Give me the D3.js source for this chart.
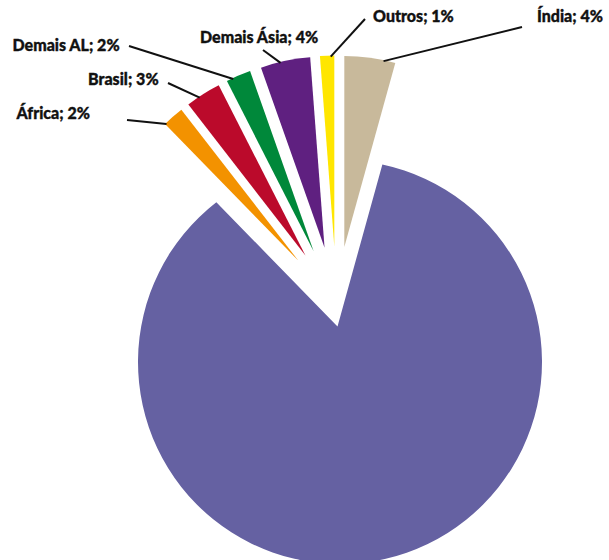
<!DOCTYPE html>
<html>
<head>
<meta charset="utf-8">
<script src="https://cdn.jsdelivr.net/npm/d3@7"></script>
<style>
  body { margin: 0; background: #fff; }
  text { font-family: Lato, "Open Sans", sans-serif; font-weight: 900; font-size: 16px; fill: #111; stroke: #111; stroke-width: 0.35px; }
</style>
</head>
<body>
<svg id="chart" width="609" height="560"></svg>
<script>
// data, clockwise from 12 o'clock
var names  = ["Índia", "principal", "África", "Brasil", "Demais AL", "Demais Ásia", "Outros"];
var values = [4.3, 83.4, 1.8, 3.0, 2.1, 4.2, 1.2];
var colors = ["#c8b99b", "#6561a2", "#f39200", "#bb0a2b", "#00883a", "#5f2080", "#ffe600"];

// layout
var width = 609, height = 560;
var cx = 336.5, cy = 304.5;   // pie centre
var rSmall = 191;             // radius of the small exploded slices
var explode = 58;             // how far the small slices are pulled out
var rBig = 202;
var bigArcShift = [3.5, 57.5];   // where the big slice's arc is centred, relative to centre
var bigApexShift = [1, 22];      // where its point sits

// hand placed labels: text pos, end of leader line, where leader meets arc (0..1)
var labelPos = {
  "Índia":       { x: 537,  y: 22,  lx: 522, ly: 27,  t: 0.77 },
  "Outros":      { x: 373,  y: 22,  lx: 365, ly: 19,  t: 0.75 },
  "Demais Ásia": { x: 200,  y: 43,  lx: 263, ly: 50,  t: 0.4 },
  "Demais AL":   { x: 12.5, y: 51,  lx: 129, ly: 46,  t: 0.26 },
  "Brasil":      { x: 88,   y: 85,  lx: 168, ly: 83,  t: 0.37 },
  "África":      { x: 16.5, y: 119, lx: 127, ly: 120, t: 0.05 }
};

var svg = d3.select("#chart");
svg.append("rect").attr("width", width).attr("height", height).attr("fill", "#fff");

var data = names.map(function(n, i) { return { name: n, value: values[i], color: colors[i] }; });

var pie = d3.pie()
  .sort(null)
  .value(function(d) { return d.value; })
  .startAngle(0)
  .endAngle(2 * Math.PI);

var arcs = pie(data);

var arc = d3.arc().innerRadius(0).outerRadius(rSmall);

function dir(a) { return [Math.sin(a), -Math.cos(a)]; }

// ray from p in direction u hits circle (c, r)
function hitCircle(p, u, c, r) {
  var wx = p[0] - c[0], wy = p[1] - c[1];
  var b = u[0] * wx + u[1] * wy;
  var k = wx * wx + wy * wy - r * r;
  var t = -b + Math.sqrt(b * b - k);
  return [p[0] + t * u[0], p[1] + t * u[1]];
}

function bigPath(d) {
  var apex = [cx + bigApexShift[0], cy + bigApexShift[1]];
  var c = [cx + bigArcShift[0], cy + bigArcShift[1]];
  var p0 = hitCircle(apex, dir(d.startAngle), c, rBig);
  var p1 = hitCircle(apex, dir(d.endAngle), c, rBig);
  var a0 = Math.atan2(p0[1] - c[1], p0[0] - c[0]);
  var a1 = Math.atan2(p1[1] - c[1], p1[0] - c[0]);
  var p = d3.path();
  p.moveTo(apex[0], apex[1]);
  p.lineTo(p0[0], p0[1]);
  p.arc(c[0], c[1], rBig, a0, a1, false);
  p.closePath();
  return p.toString();
}

function sliceOrigin(d) {
  var b = dir((d.startAngle + d.endAngle) / 2);
  return [cx + explode * b[0], cy + explode * b[1]];
}

arcs.forEach(function(d) {
  if (d.data.name === "principal") {
    svg.append("path").attr("d", bigPath(d)).attr("fill", d.data.color);
  } else {
    var o = sliceOrigin(d);
    svg.append("path")
      .attr("d", arc(d))
      .attr("transform", "translate(" + o[0] + "," + o[1] + ")")
      .attr("fill", d.data.color);
  }
});

// labels + leader lines
arcs.forEach(function(d) {
  var lp = labelPos[d.data.name];
  if (!lp) return;
  var o = sliceOrigin(d);
  var a = d.startAngle + lp.t * (d.endAngle - d.startAngle);
  var u = dir(a);
  var sx = o[0] + (rSmall - 1) * u[0], sy = o[1] + (rSmall - 1) * u[1];
  svg.append("line")
    .attr("x1", sx).attr("y1", sy)
    .attr("x2", lp.lx).attr("y2", lp.ly)
    .attr("stroke", "#111")
    .attr("stroke-width", 2);
  svg.append("text")
    .attr("x", lp.x).attr("y", lp.y)
    .text(d.data.name + "; " + Math.round(d.data.value) + "%");
});
</script>
</body>
</html>
